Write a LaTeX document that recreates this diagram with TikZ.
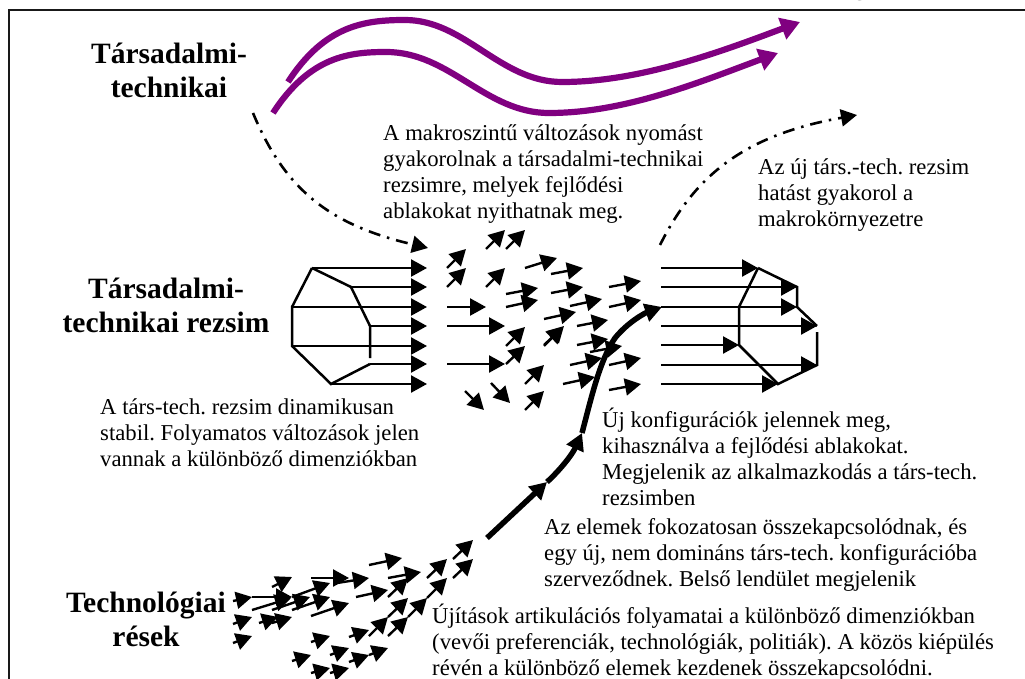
\documentclass[tikz,border=0pt]{standalone}
\usepackage{fontspec}
\setmainfont{Liberation Serif}
\usetikzlibrary{arrows.meta}
\definecolor{cmacro}{RGB}{128,0,128}
\tikzset{
  note/.style={anchor=north west, align=left, inner sep=0pt, font=\fontsize{22.7}{26}\selectfont\frenchspacing, execute at begin node=\strut},
  lvl/.style={anchor=north, align=center, inner sep=0pt, font=\fontsize{29.5}{34}\selectfont\bfseries, execute at begin node=\strut},
  frm/.style={black!90, line width=2.8pt},
  sar/.style={-{Triangle[length=16pt, width=17pt]}, black, line width=2.4pt},
  mar/.style={-{Triangle[length=19pt, width=22pt]}, cmacro, line width=6.2pt},
  tar/.style={-{Triangle[length=17pt, width=18pt]}, black, line width=5.5pt},
  dar/.style={-{Triangle[length=16pt, width=17pt]}, black, line width=2.6pt, dash pattern=on 12pt off 7pt on 2.5pt off 7pt},
  pol/.style={black, line width=2.5pt},
}
\begin{document}
\begin{tikzpicture}[x=1pt, y=-1pt]
  \useasboundingbox (0,0) rectangle (1025,679);
  \draw[frm] (9,700) -- (9,10) -- (1040,10);
  \node[anchor=base, inner sep=0pt, font=\fontsize{24}{28}\selectfont] (cut) at (860,-4) {g};
  % macro level
  \draw[mar] (288,82) .. controls (325,25) and (365,20) .. (405,20) .. controls (465,20) and (500,82) .. (562,82) .. controls (640,82) and (720,52) .. (800,22);
  \draw[mar] (273,113) .. controls (310,56) and (350,52) .. (386,52) .. controls (450,52) and (485,113) .. (549,113) .. controls (625,113) and (700,82) .. (778,53);
  \draw[dar] (253,113) .. controls (285,190) and (330,225) .. (428,248);
  \draw[dar] (660,245) .. controls (695,175) and (745,135) .. (857,115);
  % regime, left side
  \draw[pol] (312,268) -- (292,307) -- (292,346) -- (331,384) -- (370,364);
  \draw[pol] (312,268) -- (351,287) -- (370,326) -- (370,358);
  \foreach \xa/\ya in {312/268, 351/287, 292/307, 370/326, 292/346, 370/364, 331/384}
    \draw[sar] (\xa,\ya) -- (427,\ya);
  \foreach \xb/\ya in {486/307, 505/326, 505/364}
    \draw[sar] (447,\ya) -- (\xb,\ya);
  % window
  \foreach \xa/\ya/\xb/\yb in {447/268/466/249, 447/287/466/268, 486/249/505/230, 506/249/525/230,
      486/287/505/268, 525/268/557/258, 506/294/538/288, 506/307/538/300, 506/346/525/327,
      506/364/525/346, 544/346/564/326, 525/384/544/365, 525/410/544/391, 491/383/510/403,
      465/391/484/410, 551/274/583/268, 551/293/583/287, 570/306/602/299, 544/319/576/312,
      577/326/608/320, 544/345/563/327, 577/345/608/339, 590/352/622/346, 570/365/602/358,
      563/384/595/377, 609/287/641/281, 609/307/641/300, 609/365/641/358, 609/390/641/384}
    \draw[sar] (\xa,\ya) -- (\xb,\yb);
  % regime, right side
  \foreach \xb/\ya in {758/268, 797/287, 797/307, 817/326, 739/345, 817/365, 778/384}
    \draw[sar] (661,\ya) -- (\xb,\ya);
  \draw[pol] (758,268) -- (797,287) -- (797,307) -- (817,326);
  \draw[pol] (817,332) -- (817,365) -- (778,384) -- (739,345) -- (739,307) -- (758,268);
  % niches
  \foreach \xa/\ya/\xb/\yb in {233/601/252/597, 233/624/252/617, 233/643/252/636, 272/587/292/577,
      252/597/292/597, 252/610/291/598, 259/623/278/617, 272/623/292/617, 272/610/310/597,
      292/597/330/583, 292/610/330/597, 311/616/349/603, 311/578/349/578, 337/583/369/578,
      356/597/388/590, 369/565/402/558, 388/578/421/572, 388/597/408/578, 369/636/388/617,
      388/617/408/598, 388/636/408/617, 408/617/427/598, 427/598/447/578, 427/578/447/559,
      453/578/473/559, 453/559/473/540, 311/642/330/636, 349/637/369/630, 292/661/311/655,
      330/655/349/648, 349/662/369/655, 369/655/388/648, 311/673/330/668, 330/673/349/668}
    \draw[sar] (\xa,\ya) -- (\xb,\yb);
  % thick path
  \draw[tar] (487,538) -- (547,482);
  \draw[tar] (547,482) .. controls (560,470) and (572,455) .. (582,433);
  \draw[tar] (582,433) .. controls (592,395) and (600,360) .. (615,338) .. controls (628,322) and (645,313) .. (662,307);
  % labels
  \node[lvl] (lmacro) at (169,43) {Társadalmi-\\technikai};
  \node[lvl] (lregime) at (166,278) {Társadalmi-\\technikai rezsim};
  \node[lvl] (lniche) at (146,592) {Technológiai\\rések};
  \node[note] (nmacro) at (383,125) {A makroszintű változások nyomást\\gyakorolnak a társadalmi-technikai\\rezsimre, melyek fejlődési\\ablakokat nyithatnak meg.};
  \node[note] (nnew) at (758,159) {Az új társ.-tech. rezsim\\hatást gyakorol a\\makrokörnyezetre};
  \node[note] (nstable) at (100,399) {A társ-tech. rezsim dinamikusan\\stabil. Folyamatos változások jelen\\vannak a különböző dimenziókban};
  \node[note] (nconfig) at (602,408) {Új konfigurációk jelennek meg,\\kihasználva a fejlődési ablakokat.\\Megjelenik az alkalmazkodás a társ-tech.\\rezsimben};
  \begin{scope}
    \clip (530,500) rectangle (1025,590);
    \node[note] (nlink) at (544,518) {Az elemek fokozatosan összekapcsolódnak, és\\egy új, nem domináns társ-tech. konfigurációba\\szerveződnek. Belső lendület megjelenik};
  \end{scope}
  \node[note] (nart) at (432,604) {Újítások artikulációs folyamatai a különböző dimenziókban\\(vevői preferenciák, technológiák, politiák). A közös kiépülés\\révén a különböző elemek kezdenek összekapcsolódni.};
\end{tikzpicture}
\end{document}
